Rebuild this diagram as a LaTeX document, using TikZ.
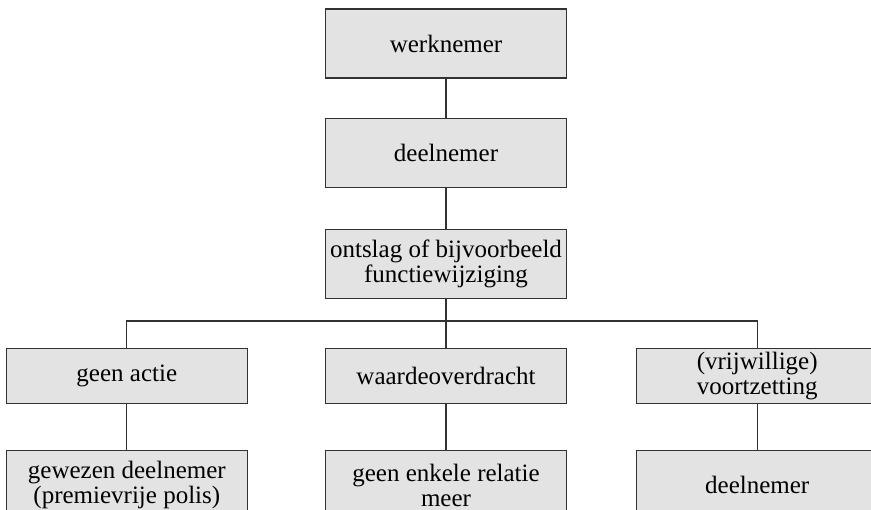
\documentclass[tikz,border=0pt]{standalone}
\usepackage{fontspec}
\setmainfont{Liberation Serif}
\definecolor{BoxGray}{RGB}{227, 227, 227}
\definecolor{LineGray}{RGB}{50, 50, 50}
\usetikzlibrary{positioning}

\begin{document}
\begin{tikzpicture}[x=1pt, y=-1pt,
            box/.style={rectangle, draw=LineGray, line width=1.2pt, fill=BoxGray, minimum width=241pt, minimum height=69pt, inner sep=0pt, align=center, font=\fontsize{25}{25}\selectfont},
            lowbox/.style={box, minimum height=55pt},
            link/.style={draw=LineGray, line width=1.2pt},
        ]
            \useasboundingbox (0,0) rectangle (871,510);
            \clip (0,0) rectangle (871,510);
            \node[box] (werknemer) at (446,43.5) {werknemer};
            \node[box, below=39pt of werknemer] (deelnemer) {deelnemer};
            \node[box, below=41pt of deelnemer] (ontslag) {ontslag of bijvoorbeeld\\functiewijziging};
            \coordinate[below=22pt of ontslag] (split);
            \node[lowbox, below=49pt of ontslag] (waarde) {waardeoverdracht};
            \node[lowbox, left=77pt of waarde] (geenactie) {geen actie};
            \node[lowbox, right=69pt of waarde] (vrijwillig) {(vrijwillige)\\voortzetting};
            \node[box, below=46pt of geenactie] (gewezen) {gewezen deelnemer\\(premievrije polis)};
            \node[box, below=46pt of waarde] (geenrelatie) {geen enkele relatie\\meer};
            \node[box, below=46pt of vrijwillig] (deelnemer2) {deelnemer};

            \draw[link] (werknemer) -- (deelnemer);
            \draw[link] (deelnemer) -- (ontslag);
            \draw[link] (ontslag) -- (waarde);
            \draw[link] (geenactie.north) |- (split) -| (vrijwillig.north);
            \draw[link] (geenactie) -- (gewezen);
            \draw[link] (waarde) -- (geenrelatie);
            \draw[link] (vrijwillig) -- (deelnemer2);
        \end{tikzpicture}
\end{document}
